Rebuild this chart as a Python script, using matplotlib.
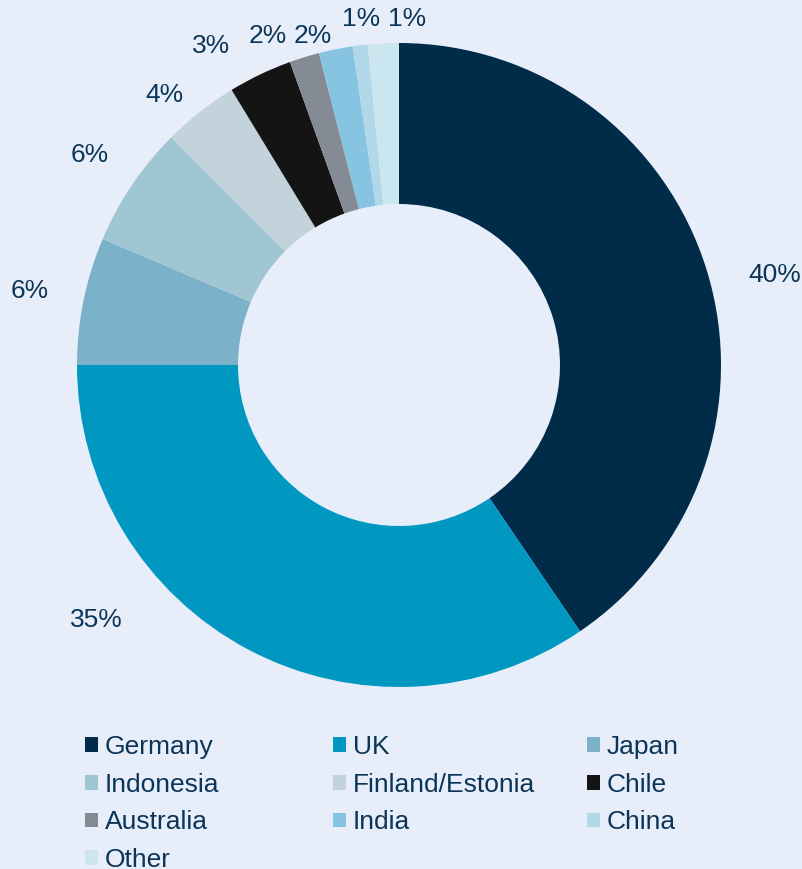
import numpy as np
import matplotlib
matplotlib.use("Agg")
from matplotlib import pyplot as plt
from matplotlib.patches import Patch

countries = ['Germany', 'UK', 'Japan', 'Indonesia', 'Finland/Estonia',
             'Chile', 'Australia', 'India', 'China', 'Other']
shares = [40.5, 34.5, 6.4, 6.1, 3.8, 3.2, 1.5, 1.7, 0.75, 1.55]
pct_labels = ['40%', '35%', '6%', '6%', '4%', '3%', '2%', '2%', '1%', '1%']
colors = ['#002B49', '#0097C1', '#7BB2C9', '#A1C6D3', '#C3D3DB',
          '#141414', '#858B94', '#86C4E2', '#B1D8E8', '#CBE6EE']

bg = '#E8EEF9'
txt = '#0B3558'
plt.rcParams['font.family'] = ['Liberation Sans', 'DejaVu Sans']

fig = plt.figure(figsize=(8.02, 8.69), dpi=100, facecolor=bg)
ax = fig.add_axes([0, 0, 1, 1])
ax.set_facecolor(bg)

wedges, _ = ax.pie(shares, colors=colors, startangle=90, counterclock=False,
                   radius=1.0, wedgeprops=dict(width=0.5, linewidth=0))

# label placement: radius and small angle nudge per wedge (Excel-like)
lab_r = [1.20, 1.23, 1.17, 1.16, 1.11, 1.15, 1.10, 1.055, 1.08, 1.075]
lab_shift = [-3.6, -22.0, 0.2, -0.1, 2.8, 5.0, 4.7, 3.3, -0.7, -4.2]
for w, lab, r, s in zip(wedges, pct_labels, lab_r, lab_shift):
    ang = np.deg2rad((w.theta1 + w.theta2) / 2 + s)
    ax.text(r * np.cos(ang), r * np.sin(ang), lab, ha='center', va='center',
            fontsize=19, color=txt)

# 1 data unit = 322 px, centre at pixel (399, 365)
ax.set_xlim(-399 / 322, (802 - 399) / 322)
ax.set_ylim(-(869 - 365) / 322, 365 / 322)
ax.set_aspect('auto')
ax.axis('off')

# legend: three equal-width columns, filled row by row
col_x = [85, 333, 587]
for c in range(3):
    idx = list(range(c, len(countries), 3))
    handles = [Patch(facecolor=colors[i], edgecolor='none') for i in idx]
    leg = fig.legend(handles, [countries[i] for i in idx], loc='upper left',
                     bbox_to_anchor=(col_x[c] / 802, 1 - 735 / 869),
                     frameon=False, fontsize=19, borderpad=0, borderaxespad=0,
                     handlelength=0.48, handleheight=0.48, handletextpad=0.28,
                     labelspacing=0.52)
    for t in leg.get_texts():
        t.set_color(txt)

fig.savefig('out.png', dpi=100, facecolor=bg)
